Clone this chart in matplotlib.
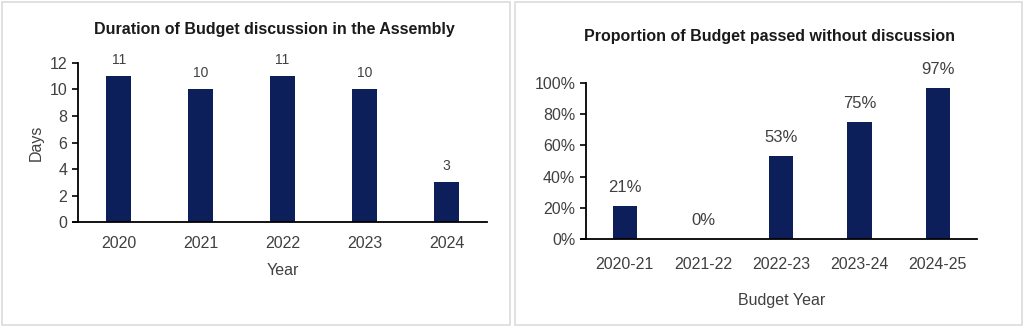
import matplotlib.pyplot as plt
from matplotlib.patches import Rectangle
from matplotlib.ticker import FuncFormatter

plt.rcParams['font.family'] = ['Liberation Sans Narrow', 'Liberation Sans', 'DejaVu Sans']

# left chart data
years = ["2020", "2021", "2022", "2023", "2024"]
days = [11, 10, 11, 10, 3]

# right chart data
budget_years = ["2020-21", "2021-22", "2022-23", "2023-24", "2024-25"]
share_no_discussion = [21, 0, 53, 75, 97]

BAR = "#0c1f5b"
TXT = "#404040"

fig = plt.figure(figsize=(10.24, 3.28), dpi=100)

# light panel frames
for x0, w in [(0.002, 0.496), (0.503, 0.495)]:
    fig.patches.append(Rectangle((x0, 0.008), w, 0.985, transform=fig.transFigure,
                                 fill=False, edgecolor="#dcdcdc", linewidth=1.2))


def style_axes(ax, pad):
    ax.spines["top"].set_visible(False)
    ax.spines["right"].set_visible(False)
    ax.spines["left"].set_linewidth(1.3)
    ax.spines["bottom"].set_linewidth(1.3)
    ax.tick_params(axis="x", length=0, pad=pad, labelsize=11.5, labelcolor=TXT)
    ax.tick_params(axis="y", length=4, width=1.2, labelsize=11.5, labelcolor=TXT)


# Left: duration of discussion
ax1 = fig.add_axes([0.076, 0.323, 0.4, 0.485])
x = range(len(years))
ax1.bar(x, days, width=0.3, color=BAR)
ax1.set_xlim(-0.5, 4.5)
ax1.set_ylim(0, 12)
ax1.set_yticks(range(0, 13, 2))
ax1.set_xticks(list(x))
ax1.set_xticklabels(years)
style_axes(ax1, 10)
ax1.spines["bottom"].set_bounds(-0.56, 4.5)
for i, v in enumerate(days):
    ax1.annotate(str(v), (i, v), xytext=(0, 7), textcoords="offset points",
                 ha="center", va="bottom", fontsize=10, color=TXT)
ax1.set_ylabel("Days", fontsize=11.5, color=TXT, labelpad=4)
ax1.set_xlabel("Year", fontsize=11.5, color=TXT, labelpad=9)
ax1.set_title("Duration of Budget discussion in the Assembly", fontsize=11.5,
              fontweight="bold", color="#1a1a1a", pad=21, x=0.48)

# Right: proportion passed without discussion
ax2 = fig.add_axes([0.572, 0.271, 0.382, 0.476])
x2 = range(len(budget_years))
ax2.bar(x2, share_no_discussion, width=0.31, color=BAR)
ax2.set_xlim(-0.5, 4.5)
ax2.set_ylim(0, 100)
ax2.set_yticks(range(0, 101, 20))
ax2.yaxis.set_major_formatter(FuncFormatter(lambda v, p: f"{v:.0f}%"))
ax2.set_xticks(list(x2))
ax2.set_xticklabels(budget_years)
style_axes(ax2, 13)
ax2.spines["bottom"].set_bounds(-0.56, 4.5)
for i, v in enumerate(share_no_discussion):
    ax2.annotate(f"{v}%", (i, v), xytext=(0, 8), textcoords="offset points",
                 ha="center", va="bottom", fontsize=12, color=TXT)
ax2.set_xlabel("Budget Year", fontsize=11.5, color=TXT, labelpad=15)
ax2.set_title("Proportion of Budget passed without discussion", fontsize=11.5,
              fontweight="bold", color="#1a1a1a", pad=30, x=0.47)

fig.savefig("out.png", dpi=100, facecolor="white")
